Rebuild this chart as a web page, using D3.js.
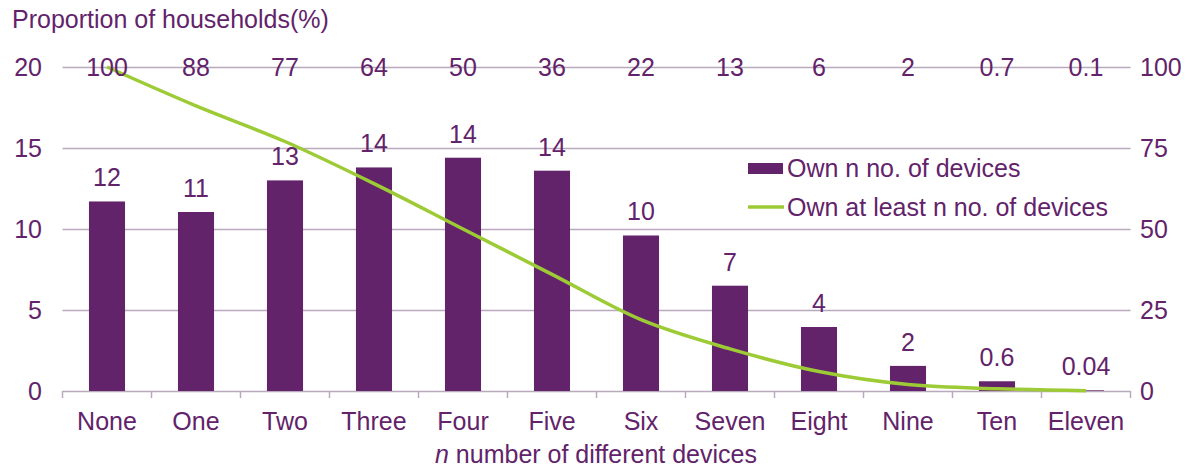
<!DOCTYPE html>
<html><head><meta charset="utf-8">
<script src="https://cdn.jsdelivr.net/npm/d3@7"></script>
<style>body{margin:0;background:#fff}text{font-family:"Liberation Sans",Arial,sans-serif}</style>
</head><body><svg id="c" width="1204" height="468"></svg>
<script>
const categories = ["None","One","Two","Three","Four","Five","Six","Seven","Eight","Nine","Ten","Eleven"];
const ownN = [11.7,11.05,13.0,13.8,14.4,13.6,9.6,6.5,3.95,1.55,0.6,0.04];
const ownNLabels = ["12","11","13","14","14","14","10","7","4","2","0.6","0.04"];
const atLeast = [100,88,77,64,50,36,22,13,6,2,0.7,0.1];
const atLeastLabels = ["100","88","77","64","50","36","22","13","6","2","0.7","0.1"];
const leftTicks = [0,5,10,15,20];
const rightTicks = [0,25,50,75,100];
const seriesNames = ["Own n no. of devices","Own at least n no. of devices"];

const purple = "#62236A", green = "#9DCB35", textC = "#62236A", grid = "#B9A9BD";
const svg = d3.select("#c");
const L = 62.5, R = 1130.5, T = 67, B = 391;
const x = d3.scaleBand().domain(categories).range([L,R]).paddingInner(0.595).paddingOuter(0.2975);
const xb = d3.scaleBand().domain(categories).range([L,R]);
const y = d3.scaleLinear().domain([0,20]).range([B,T]);
const y2 = d3.scaleLinear().domain([0,100]).range([B,T]);
const fs = 25;

// gridlines
svg.append("g").selectAll("line").data(leftTicks).join("line")
  .attr("x1",L).attr("x2",R).attr("y1",d=>Math.round(y(d))+0.5).attr("y2",d=>Math.round(y(d))+0.5)
  .attr("stroke",grid).attr("stroke-width",1.5);
// bottom ticks
const tb = categories.map(c=>xb(c)).concat([R]);
svg.append("g").selectAll("line").data(tb).join("line")
  .attr("x1",d=>d).attr("x2",d=>d).attr("y1",B).attr("y2",B+7).attr("stroke",grid).attr("stroke-width",1.5);

// left axis labels
svg.append("g").selectAll("text").data(leftTicks).join("text")
  .attr("x",42).attr("y",d=>y(d)).attr("dy","0.35em").attr("text-anchor","end")
  .attr("font-size",fs).attr("fill",textC).text(d=>d);
// right axis labels
svg.append("g").selectAll("text").data(rightTicks).join("text")
  .attr("x",1140).attr("y",d=>y2(d)).attr("dy","0.35em").attr("text-anchor","start")
  .attr("font-size",fs).attr("fill",textC).text(d=>d);

// bars
svg.append("g").selectAll("rect").data(ownN).join("rect")
  .attr("x",(d,i)=>x(categories[i])).attr("width",x.bandwidth())
  .attr("y",d=>y(d)).attr("height",d=>B-y(d)).attr("fill",purple);
// bar labels
svg.append("g").selectAll("text").data(ownN).join("text")
  .attr("x",(d,i)=>x(categories[i])+x.bandwidth()/2).attr("y",d=>y(d)-15)
  .attr("text-anchor","middle").attr("font-size",fs).attr("fill",textC)
  .text((d,i)=>ownNLabels[i]);

// line
const cx = c => xb(c)+xb.bandwidth()/2;
svg.append("path").datum(atLeast)
  .attr("d",d3.line().x((d,i)=>cx(categories[i])).y(d=>y2(d)).curve(d3.curveMonotoneX))
  .attr("fill","none").attr("stroke",green).attr("stroke-width",3.5);
// line labels along the top
svg.append("g").selectAll("text").data(atLeast).join("text")
  .attr("x",(d,i)=>cx(categories[i])).attr("y",T).attr("dy","0.35em")
  .attr("text-anchor","middle").attr("font-size",fs).attr("fill",textC)
  .text((d,i)=>atLeastLabels[i]);

// x labels
svg.append("g").selectAll("text").data(categories).join("text")
  .attr("x",d=>cx(d)).attr("y",421).attr("dy","0.35em").attr("text-anchor","middle")
  .attr("font-size",fs).attr("fill",textC).text(d=>d);
// x title
const xt = svg.append("text").attr("x",596).attr("y",454).attr("dy","0.35em").attr("text-anchor","middle")
  .attr("font-size",fs).attr("fill",textC);
xt.append("tspan").attr("font-style","italic").text("n");
xt.append("tspan").text(" number of different devices");
// y title
svg.append("text").attr("x",12).attr("y",19).attr("dy","0.35em").attr("font-size",fs).attr("fill",textC)
  .text("Proportion of households(%)");

// legend
const lg = svg.append("g");
lg.append("rect").attr("x",748).attr("y",163).attr("width",35).attr("height",11).attr("fill",purple);
lg.append("text").attr("x",787).attr("y",168).attr("dy","0.35em").attr("font-size",fs).attr("fill",textC).text(seriesNames[0]);
lg.append("line").attr("x1",748).attr("x2",784).attr("y1",207).attr("y2",207).attr("stroke",green).attr("stroke-width",3.5);
lg.append("text").attr("x",787).attr("y",207).attr("dy","0.35em").attr("font-size",fs).attr("fill",textC).text(seriesNames[1]);
</script></body></html>
